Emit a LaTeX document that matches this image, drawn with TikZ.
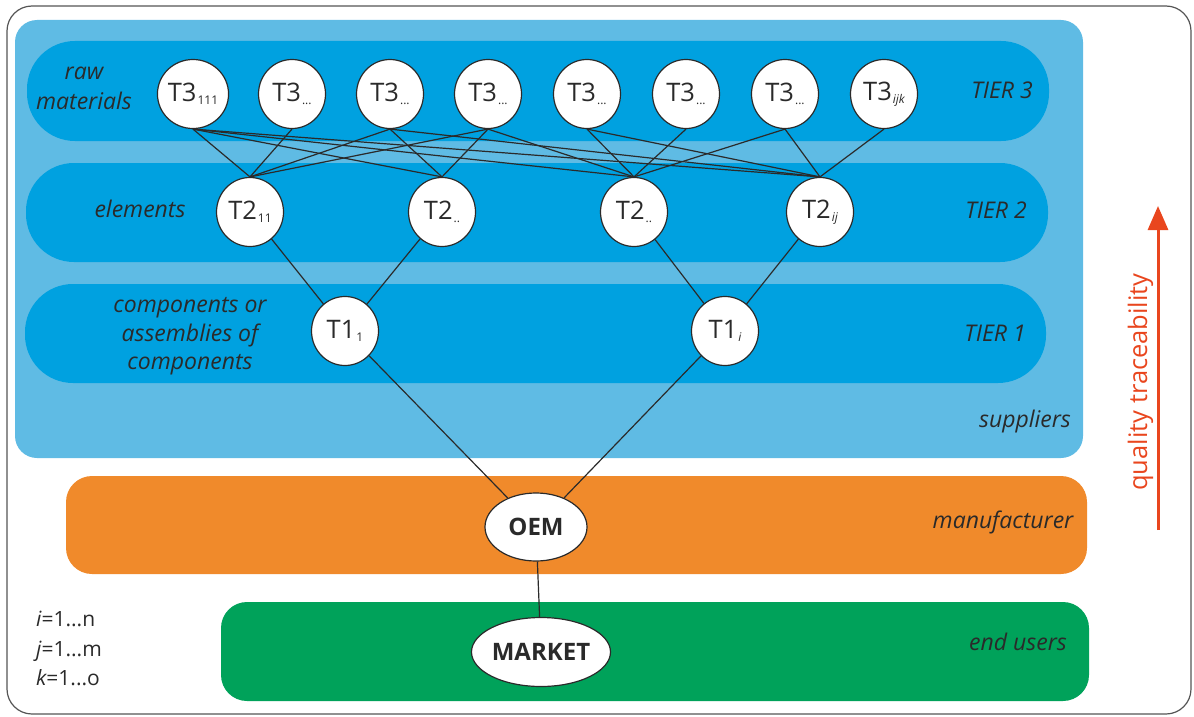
\documentclass[tikz,border=0pt]{standalone}
\usepackage{fontspec}
\setmainfont{Open Sans}
\usetikzlibrary{arrows.meta,shapes.geometric}
\definecolor{supblue}{HTML}{5FBBE4}
\definecolor{tierblue}{HTML}{00A1E0}
\definecolor{orgband}{HTML}{F08A2B}
\definecolor{grnband}{HTML}{00A25A}
\definecolor{qred}{HTML}{E9461E}
\definecolor{txt}{HTML}{2A2A2A}
\definecolor{framecol}{HTML}{555555}
\newcommand{\tsub}[1]{\kern1pt\raisebox{-3pt}{\fontsize{12}{12}\selectfont #1}}
\begin{document}
\begin{tikzpicture}[x=1pt,y=-1pt,
  tnode/.style={ellipse, draw=txt, line width=1.2pt, fill=white, minimum width=67pt, minimum height=69pt, inner sep=0pt, font=\fontsize{25.5}{25.5}\selectfont, text=txt},
  onode/.style={ellipse, draw=txt, line width=1.2pt, fill=white, inner sep=0pt, font=\bfseries\fontsize{24}{24}\selectfont, text=txt},
  lbl/.style={font=\itshape\fontsize{23}{28}\selectfont, text=txt, inner sep=0pt},
  idx/.style={font=\fontsize{21}{21}\selectfont, text=txt, inner sep=0pt, anchor=base west},
  conn/.style={draw=txt, line width=1.2pt},
  band/.style={rounded corners=48pt, fill=tierblue}
]
\useasboundingbox (0,0) rectangle (1194,717);
% frame and bands
\draw[framecol, line width=1.2pt, rounded corners=25pt] (7,6) rectangle (1191,714);
\fill[supblue, rounded corners=22pt] (15,20) rectangle (1083,458);
\fill[band] (27,41) rectangle (1049,141);
\fill[band] (26,163) rectangle (1048,262);
\fill[band] (25,284) rectangle (1046,383);
\fill[orgband, rounded corners=26pt] (66,476) rectangle (1087,574);
\fill[grnband, rounded corners=26pt] (221,602) rectangle (1089,701);
% tier 3 nodes
\node[tnode] (a1) at (193,94) {T3\tsub{111}};
\node[tnode] (a2) at (292,94) {T3\tsub{...}};
\node[tnode] (a3) at (390,94) {T3\tsub{...}};
\node[tnode] (a4) at (488,94) {T3\tsub{...}};
\node[tnode] (a5) at (587,94) {T3\tsub{...}};
\node[tnode] (a6) at (686,94) {T3\tsub{...}};
\node[tnode] (a7) at (785,94) {T3\tsub{...}};
\node[tnode] (a8) at (884,94) {T3\tsub{\itshape ijk}};
% tier 2 nodes
\node[tnode] (b1) at (250,212) {T2\tsub{11}};
\node[tnode] (b2) at (442,212) {T2\tsub{..}};
\node[tnode] (b3) at (634,212) {T2\tsub{..}};
\node[tnode] (b4) at (820,212) {T2\tsub{\itshape ij}};
% tier 1 nodes
\node[tnode] (c1) at (345,331) {T1\tsub{1}};
\node[tnode] (c2) at (725,331) {T1\tsub{\itshape i}};
% OEM and market
\node[onode, minimum width=102pt, minimum height=68pt] (oem) at (536,527) {OEM};
\node[onode, minimum width=138pt, minimum height=69pt] (mkt) at (541,652) {MARKET};
% connectors
\foreach \s/\t in {a1/b1,a2/b1,a3/b1,a4/b1,a1/b2,a3/b2,a4/b2,a1/b3,a4/b3,a5/b3,a6/b3,a7/b3,a1/b4,a3/b4,a5/b4,a7/b4,a8/b4}
  \draw[conn] (\s.south) -- (\t.north);
\draw[conn] (b1) -- (c1);
\draw[conn] (b2) -- (c1);
\draw[conn] (b3) -- (c2);
\draw[conn] (b4) -- (c2);
\draw[conn] (c1) -- (oem);
\draw[conn] (c2) -- (oem);
\draw[conn] (oem) -- (mkt);
% labels
\node[lbl, anchor=base] (raw) at (84,80) {raw};
\node[lbl, anchor=base] (mat) at (84,109) {materials};
\node[lbl, anchor=base] (elem) at (140,217) {elements};
\node[lbl, anchor=base] (cp1) at (190,312) {components or};
\node[lbl, anchor=base] (cp2) at (190,341) {assemblies of};
\node[lbl, anchor=base] (cp3) at (190,369) {components};
\node[lbl, anchor=base] (t3) at (1002,99) {TIER 3};
\node[lbl, anchor=base] (t2) at (996,218) {TIER 2};
\node[lbl, anchor=base] (t1) at (995,341) {TIER 1};
\node[lbl, anchor=base] (sup) at (1025,427) {suppliers};
\node[lbl, anchor=base] (man) at (1003,528) {manufacturer};
\node[lbl, anchor=base] (eu) at (1018,650) {end users};
\node[idx] (ii) at (36,626) {{\itshape i}=1...n};
\node[idx] (jj) at (36,656) {{\itshape j}=1...m};
\node[idx] (kk) at (36,685) {{\itshape k}=1...o};
% quality traceability
\node[font=\fontsize{25.5}{25.5}\selectfont, text=qred, rotate=90, anchor=base, inner sep=0pt] (qt) at (1147,382) {quality traceability};
\coordinate (qs) at (1158,530);
\coordinate (qe) at (1158,206);
\draw[qred, line width=3pt, -{Triangle[width=20pt,length=24pt]}] (qs) -- (qe);
\end{tikzpicture}
\end{document}
